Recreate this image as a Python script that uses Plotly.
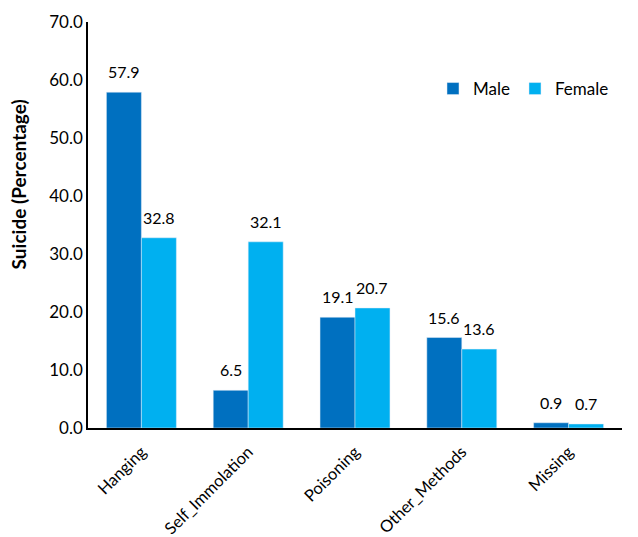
import plotly.graph_objects as go

categories = ["Hanging", "Self_Immolation", "Poisoning", "Other_Methods", "Missing"]
male = [57.9, 6.5, 19.1, 15.6, 0.9]
female = [32.8, 32.1, 20.7, 13.6, 0.7]

font_family = "Lato, Carlito, Calibri, sans-serif"
bargap = 0.345
plot_w = 638 - 80 - 24
bar_px = plot_w / len(categories) * (1 - bargap) / 2

fig = go.Figure()
fig.add_trace(go.Bar(x=categories, y=male, name="Male", marker_color="#0070C0"))
fig.add_trace(go.Bar(x=categories, y=female, name="Female", marker_color="#00B0F0"))

annotations = []
for series, sign in ((male, -1), (female, 1)):
    for c, v in zip(categories, series):
        annotations.append(dict(
            x=c, y=v, xref="x", yref="y", text=f"{v:.1f}", showarrow=False,
            yanchor="bottom", xshift=sign * bar_px / 2, yshift=9,
            font=dict(size=16, color="black"),
        ))

# y-axis title (placed slightly above centre, as in the reference)
annotations.append(dict(
    x=0, y=0.6, xref="paper", yref="paper", text="<b>Suicide (Percentage)</b>",
    textangle=-90, showarrow=False, xanchor="center", yanchor="middle", xshift=-70,
    font=dict(size=19, color="black"),
))

fig.update_layout(
    width=638, height=537,
    margin=dict(l=80, r=24, t=14, b=117, autoexpand=False),
    paper_bgcolor="white", plot_bgcolor="white",
    font=dict(family=font_family, size=16, color="black"),
    barmode="group", bargap=bargap, bargroupgap=0,
    showlegend=True,
    annotations=annotations,
    legend=dict(orientation="h", x=0.985, xanchor="right", y=0.835, yanchor="middle",
                font=dict(size=17), itemwidth=30, bgcolor="rgba(0,0,0,0)"),
    xaxis=dict(showline=True, linecolor="black", linewidth=1.5, tickangle=-45,
               ticks="", showgrid=False, automargin=False, tickfont=dict(size=16.5),
               ticklabelstandoff=6),
    yaxis=dict(range=[0, 70], dtick=10, tickformat=".1f", showline=True, linecolor="black",
               linewidth=1.5, ticks="", showgrid=False, zeroline=False, automargin=False,
               tickfont=dict(size=17)),
)

fig.write_html("out.html")
